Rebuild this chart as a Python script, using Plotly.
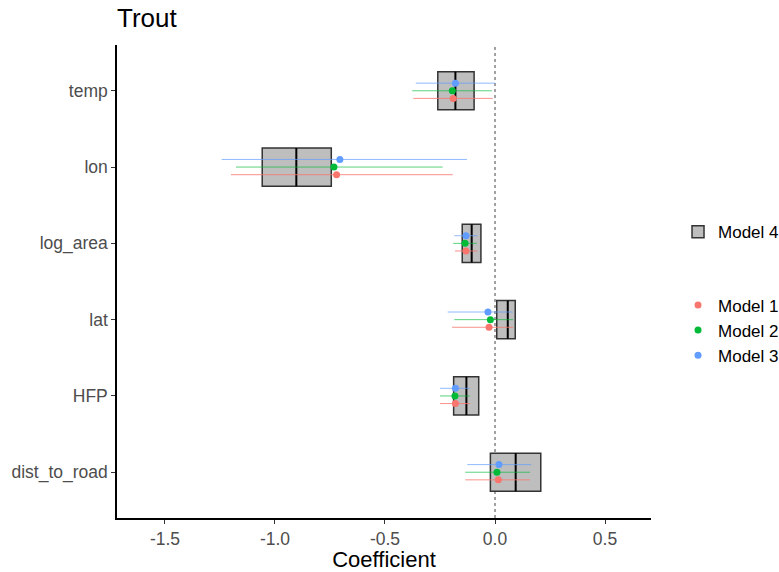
import plotly.graph_objects as go

categories = ["dist_to_road", "HFP", "lat", "log_area", "lon", "temp"]

# Model 4 crossbars (low, mid, high)
m4_low = [-0.021, -0.188, 0.008, -0.149, -1.058, -0.26]
m4_mid = [0.094, -0.13, 0.058, -0.106, -0.903, -0.18]
m4_high = [0.208, -0.074, 0.092, -0.064, -0.744, -0.095]

# Models 1-3: estimate, low, high
m1_est = [0.015, -0.18, -0.027, -0.132, -0.72, -0.19]
m1_low = [-0.135, -0.25, -0.195, -0.182, -1.2, -0.371]
m1_high = [0.159, -0.114, 0.082, -0.08, -0.192, -0.01]

m2_est = [0.009, -0.182, -0.021, -0.136, -0.732, -0.194]
m2_low = [-0.135, -0.25, -0.185, -0.19, -1.177, -0.376]
m2_high = [0.159, -0.114, 0.082, -0.083, -0.238, -0.014]

m3_est = [0.018, -0.18, -0.032, -0.132, -0.705, -0.18]
m3_low = [-0.126, -0.25, -0.215, -0.185, -1.242, -0.36]
m3_high = [0.164, -0.114, 0.08, -0.08, -0.127, 0.0]

ypos = list(range(1, len(categories) + 1))

fig = go.Figure()

# Model 4 boxes
fig.add_trace(go.Bar(
    y=ypos, x=[h - l for l, h in zip(m4_low, m4_high)], base=m4_low,
    orientation="h", width=0.5, name="Model 4",
    marker=dict(color="#BEBEBE", line=dict(color="#333333", width=1.5)),
    legendgroup="g4", legendrank=1, hoverinfo="skip",
))
# midlines
mx, my = [], []
for p, m in zip(ypos, m4_mid):
    mx += [m, m, None]
    my += [p - 0.25, p + 0.25, None]
fig.add_trace(go.Scatter(x=mx, y=my, mode="lines", line=dict(color="black", width=2),
                         showlegend=False, hoverinfo="skip"))

models = [
    ("Model 1", m1_est, m1_low, m1_high, "#F8766D", "rgba(248,118,109,0.8)", -0.1),
    ("Model 2", m2_est, m2_low, m2_high, "#00BA38", "rgba(0,186,56,0.65)", 0.0),
    ("Model 3", m3_est, m3_low, m3_high, "#619CFF", "rgba(97,156,255,0.7)", 0.1),
]
for i, (name, est, lo, hi, col, lcol, off) in enumerate(models):
    fig.add_trace(go.Scatter(
        x=est, y=[p + off for p in ypos], mode="markers", name=name,
        marker=dict(color=col, size=7),
        error_x=dict(type="data", symmetric=False,
                     array=[h - e for e, h in zip(est, hi)],
                     arrayminus=[e - l for e, l in zip(est, lo)],
                     color=lcol, thickness=1, width=0),
        legendgroup="g123", legendrank=2 + i,
    ))

fig.add_shape(type="line", x0=0, x1=0, y0=0, y1=1, xref="x", yref="paper",
              line=dict(color="#444444", width=1, dash="dot"), layer="below")

fig.update_layout(
    width=779, height=572,
    margin=dict(l=117, r=128, t=45, b=54, autoexpand=False),
    paper_bgcolor="white", plot_bgcolor="white",
    font=dict(family="Liberation Sans, Arial, sans-serif", color="#4D4D4D"),
    title=dict(text="Trout", x=117 / 779, xanchor="left", y=0.9685, yanchor="middle",
               font=dict(size=26, color="black")),
    barmode="overlay",
    showlegend=True,
    legend=dict(x=1.0506, xanchor="left", y=0.474, yanchor="middle",
                font=dict(size=17, color="black"), tracegroupgap=48,
                itemwidth=30, bgcolor="rgba(0,0,0,0)"),
    xaxis=dict(range=[-1.718, 0.709], tickvals=[-1.5, -1.0, -0.5, 0.0, 0.5],
               ticktext=["-1.5", "-1.0", "-0.5", "0.0", "0.5"],
               showgrid=False, zeroline=False, showline=True, linecolor="black", linewidth=1.5,
               ticks="outside", ticklen=4, tickcolor="#333333", ticklabelstandoff=0,
               tickfont=dict(size=17.5, color="#4D4D4D"),
               title=dict(text="Coefficient", font=dict(size=22, color="black"), standoff=10)),
    yaxis=dict(range=[0.4, 6.6], tickvals=ypos, ticktext=categories,
               showgrid=False, zeroline=False, showline=True, linecolor="black", linewidth=1.5,
               ticks="outside", ticklen=4, tickcolor="#333333",
               tickfont=dict(size=17.5, color="#4D4D4D")),
)

fig.write_html("out.html")
